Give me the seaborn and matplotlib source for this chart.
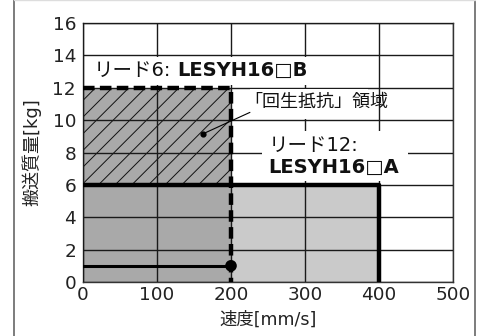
import matplotlib
matplotlib.use("Agg")
import matplotlib.pyplot as plt
import seaborn as sns
import pandas as pd
from matplotlib.patches import Rectangle
from matplotlib.lines import Line2D

# ---- data ----
lead6_speed = [0, 200, 200]
lead6_mass = [12, 12, 0]
lead12_speed = [0, 400, 400]
lead12_mass = [6, 6, 0]
regen_speed = [0, 200]
regen_mass = [1, 1]
regen_point_speed = [200]
regen_point_mass = [1]
x_ticks = [0, 100, 200, 300, 400, 500]
y_ticks = [0, 2, 4, 6, 8, 10, 12, 14, 16]
label_lead6 = "リード6:"
label_lead6_model = "LESYH16□B"
label_lead12 = "リード12:"
label_lead12_model = "LESYH16□A"
label_regen = "「回生抵抗」領域"
xlabel = "速度[mm/s]"
ylabel = "搬送質量[kg]"

sns.set_theme(style="white")
FAM = ['DejaVu Sans', 'Noto Sans CJK JP']
plt.rcParams['font.family'] = FAM
plt.rcParams['hatch.linewidth'] = 0.7

fig = plt.figure(figsize=(4.84, 3.36), dpi=100)
ax = fig.add_axes([83/484, 1-282/336, (453-83)/484, (282-23)/336])

dark = "#a9a9a9"
light = "#cacaca"
# fills
ax.fill_between(lead6_speed[:2], [0, 0], lead6_mass[:2], color=dark, lw=0, zorder=1)
ax.fill_between([lead6_speed[1], lead12_speed[1]], [0, 0], [lead12_mass[0]]*2,
                color=light, lw=0, zorder=1)
ax.fill_between(lead6_speed[:2], [lead12_mass[0]]*2, lead6_mass[:2], facecolor="none",
                edgecolor="#111111", hatch="//", lw=0, zorder=1.5)

ax.grid(True, color="#1a1a1a", linewidth=1.0, zorder=2)
ax.set_axisbelow(False)
for gl in ax.get_xgridlines() + ax.get_ygridlines():
    gl.set_zorder(2)

df6 = pd.DataFrame({"speed": lead6_speed, "mass": lead6_mass})
df12 = pd.DataFrame({"speed": lead12_speed, "mass": lead12_mass})
dfr = pd.DataFrame({"speed": regen_speed, "mass": regen_mass})
sns.lineplot(data=df12, x="speed", y="mass", sort=False, color="black", lw=3.2,
             ax=ax, zorder=3, estimator=None)
sns.lineplot(data=dfr, x="speed", y="mass", sort=False, color="black", lw=2.2,
             ax=ax, zorder=3, estimator=None)
sns.lineplot(data=df6, x="speed", y="mass", sort=False, color="black", lw=3.2,
             ax=ax, zorder=3.2, estimator=None)
ax.lines[-1].set_dashes([2.6, 1.2])
sns.scatterplot(x=regen_point_speed, y=regen_point_mass, color="black", s=70,
                ax=ax, zorder=4, edgecolor="none")

ax.set_xlim(0, 500)
ax.set_ylim(0, 16)
ax.set_xticks(x_ticks)
ax.set_yticks(y_ticks)
ax.tick_params(axis="both", labelsize=13.3, length=0, colors="#222222")
ax.tick_params(axis="x", pad=3)
ax.tick_params(axis="y", pad=5)
for s in ax.spines.values():
    s.set_color("#333333")
    s.set_linewidth(1.0)
    s.set_zorder(2)

ax.set_xlabel(xlabel, fontsize=12.5, color="#222222", labelpad=5)
ax.set_ylabel(ylabel, fontsize=13, color="#222222", labelpad=8)

# text labels with white backgrounds
ax.add_patch(Rectangle((3, 12.15), 310, 1.75, facecolor="white", edgecolor="none", zorder=3.5))
ax.text(15, 13.05, label_lead6, fontsize=14, va="center", ha="left", zorder=5, color="#111111")
ax.text(127, 13.05, label_lead6_model, fontsize=14, fontweight="bold", va="center",
        ha="left", zorder=5, color="#111111")

ax.add_patch(Rectangle((225, 10.1), 160, 1.8, facecolor="white", edgecolor="none", zorder=3.5))
ax.text(218, 11.1, label_regen, fontsize=13, va="center", ha="left", zorder=5, color="#111111")
ax.annotate("", xy=(162, 9.15), xytext=(229, 10.55),
            arrowprops=dict(arrowstyle="-", color="black", lw=0.8), zorder=5)
ax.scatter([162], [9.15], s=12, color="black", zorder=5)

ax.add_patch(Rectangle((242, 6.25), 197, 3.1, facecolor="white", edgecolor="none", zorder=3.5))
ax.text(251, 8.45, label_lead12, fontsize=14, va="center", ha="left", zorder=5, color="#111111")
ax.text(251, 7.1, label_lead12_model, fontsize=14, fontweight="bold", va="center",
        ha="left", zorder=5, color="#111111")

# figure frame
fig.add_artist(Line2D([14/484, 14/484], [0, 1], color="#666666", lw=1.2, transform=fig.transFigure))
fig.add_artist(Line2D([475/484, 475/484], [0, 1], color="#666666", lw=1.2, transform=fig.transFigure))
fig.add_artist(Line2D([14/484, 475/484], [0.999, 0.999], color="#dddddd", lw=1.0, transform=fig.transFigure))

fig.savefig("out.png", dpi=100)
